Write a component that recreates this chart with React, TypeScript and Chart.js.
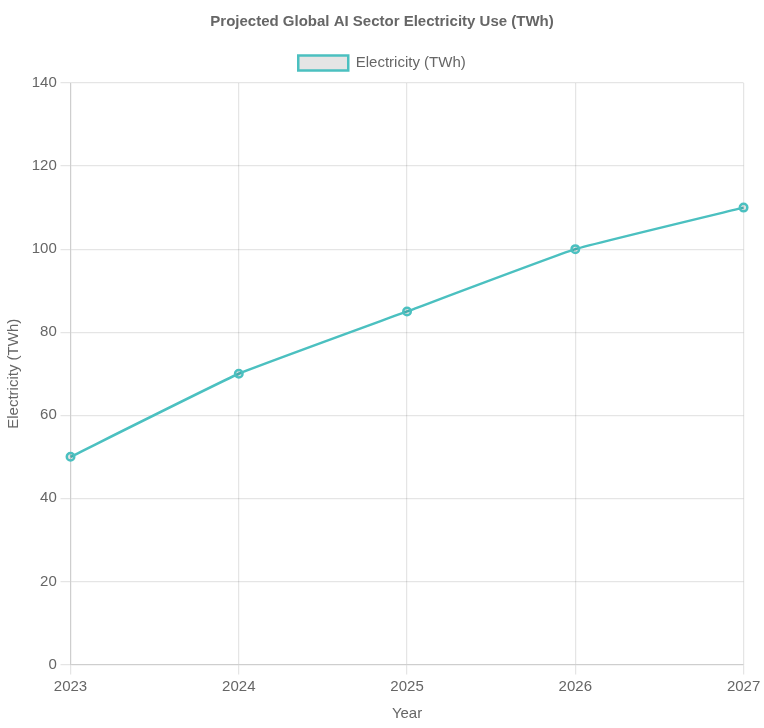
import React, { useEffect, useRef } from "react";
import { Chart, registerables } from "chart.js";

Chart.register(...registerables);

const years = ["2023", "2024", "2025", "2026", "2027"];
const electricity = [50, 70, 85, 100, 110];

const SCALE = 1.25;

export default function App() {
  const ref = useRef<HTMLCanvasElement | null>(null);
  useEffect(() => {
    if (!ref.current) return;
    Chart.defaults.font.family = "Arial, 'Liberation Sans', sans-serif";
    const chart = new Chart(ref.current, {
      type: "line",
      data: {
        labels: years,
        datasets: [
          {
            label: "Electricity (TWh)",
            data: electricity,
            borderColor: "rgb(75, 192, 192)",
            backgroundColor: "rgba(0,0,0,0.1)",
            borderWidth: 2,
            tension: 0.1,
          },
        ],
      },
      options: {
        animation: false,
        responsive: true,
        maintainAspectRatio: false,
        devicePixelRatio: SCALE,
        plugins: {
          title: {
            display: true,
            text: "Projected Global AI Sector Electricity Use (TWh)",
          },
        },
        scales: {
          x: {
            title: { display: true, text: "Year" },
          },
          y: {
            beginAtZero: true,
            max: 140,
            title: { display: true, text: "Electricity (TWh)" },
          },
        },
      },
    });
    return () => chart.destroy();
  }, []);
  return (
    <div
      style={{
        position: "absolute",
        left: 0,
        top: 0,
        width: 764 / SCALE,
        height: 728 / SCALE,
        transform: `scale(${SCALE})`,
        transformOrigin: "0 0",
      }}
    >
      <canvas ref={ref} />
    </div>
  );
}
